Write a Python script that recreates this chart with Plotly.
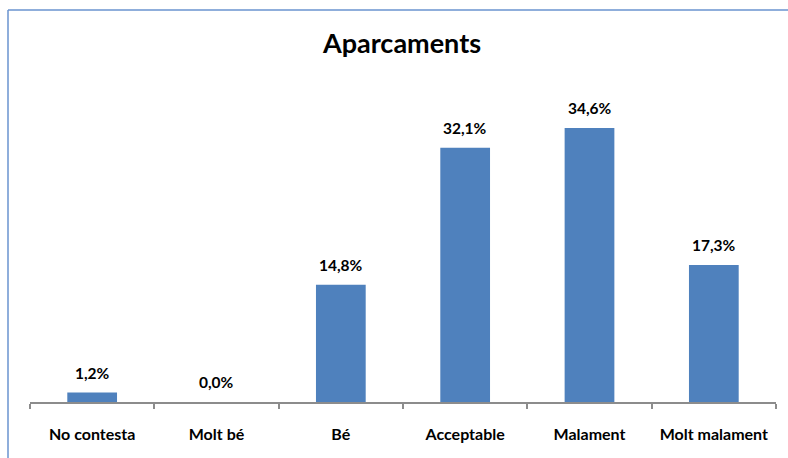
import plotly.graph_objects as go

categories = ["No contesta", "Molt bé", "Bé", "Acceptable", "Malament", "Molt malament"]
values = [1.2, 0.0, 14.8, 32.1, 34.6, 17.3]
title_text = "Aparcaments"

W, H = 788, 458
L, R, T, B = 30, 12, 60, 56
pw, ph = W - L - R, H - T - B
FONT = "Lato, Open Sans, sans-serif"

fig = go.Figure(go.Bar(
    x=categories, y=values,
    marker=dict(color="#4F81BD", line=dict(width=0)),
    width=0.4,
))

for c, v in zip(categories, values):
    fig.add_annotation(x=c, y=v, text="<b>" + f"{v:.1f}".replace(".", ",") + "%</b>",
                       showarrow=False, yanchor="bottom", yshift=9,
                       font=dict(family=FONT, size=15.5, color="#000000"))

fig.update_layout(
    width=W, height=H,
    margin=dict(l=L, r=R, t=T, b=B, autoexpand=False),
    paper_bgcolor="white", plot_bgcolor="white",
    showlegend=False,
    title=dict(text="<b>" + title_text + "</b>", x=(402 - L) / pw, xref="paper", xanchor="center",
               y=1 - 44 / H, yanchor="middle",
               font=dict(family=FONT, size=27, color="#000000")),
    xaxis=dict(type="category", showline=True, linecolor="#8C8C8C", linewidth=1.5,
               ticks="outside", tickson="boundaries", ticklen=5, tickcolor="#8C8C8C", tickwidth=1.5,
               tickfont=dict(family=FONT, size=16, color="#000000"),
               ticklabelstandoff=17, automargin=False,
               tickprefix="<b>", ticksuffix="</b>",
               showgrid=False),
    yaxis=dict(range=[0, ph / 7.92], visible=False, showgrid=False, zeroline=False, automargin=False),
    font=dict(family=FONT),
)

border = dict(color="#6A93CF", width=1.5)
fig.add_shape(type="line", xref="paper", yref="paper",
              x0=(8 - L) / pw, x1=(W + 5 - L) / pw, y0=(H - B - 10) / ph, y1=(H - B - 10) / ph,
              line=border)
fig.add_shape(type="line", xref="paper", yref="paper",
              x0=(8 - L) / pw, x1=(8 - L) / pw, y0=-(B + 5) / ph, y1=(H - B - 10) / ph,
              line=border)

fig.write_html("out.html", config={"displayModeBar": False},
               post_script="document.body.style.margin='0';document.body.style.overflow='hidden';")
